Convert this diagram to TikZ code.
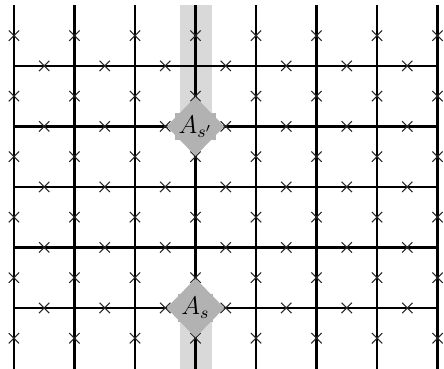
\documentclass[tikz,border=0pt]{standalone}
\usepackage{amsmath, amssymb}
\usepackage{xcolor}
\usepackage{tikz}
\usetikzlibrary{shapes.geometric, calc}

\begin{document}
\begin{tikzpicture}[
  gridline/.style={line width=1.1pt, black},
  cross/.style={line width=0.5pt, black!85},
  band/.style={fill=gray!30, draw=none},
  site/.style={diamond, fill=gray!60, draw=none, inner sep=0pt,
               minimum width=0.96cm, minimum height=0.98cm},
  sitelabel/.style={rectangle, fill=gray!60, inner sep=1.5pt, font=\large},
]
\useasboundingbox (-0.231,-1.008) rectangle (7.107,5.09);

%% ---- shaded column ----
\fill[band] (2.74,3) rectangle (3.27,5);
\fill[band] (2.74,-1.01) rectangle (3.27,0);

%% ---- lattice ----
\foreach \x in {0,...,7}
  \draw[gridline] (\x,-1.01) -- (\x,5);
\foreach \y in {0,...,4}
  \draw[gridline] (0,\y) -- (7,\y);

%% ---- crosses on the edges ----
\def\cs{0.085}
\foreach \x in {0,...,7}
  \foreach \y in {-0.5,0.5,...,4.5}
    \draw[cross] (\x-\cs,\y-\cs) -- (\x+\cs,\y+\cs)
                 (\x-\cs,\y+\cs) -- (\x+\cs,\y-\cs);
\foreach \x in {0.5,1.5,...,6.5}
  \foreach \y in {0,...,4}
    \draw[cross] (\x-\cs,\y-\cs) -- (\x+\cs,\y+\cs)
                 (\x-\cs,\y+\cs) -- (\x+\cs,\y-\cs);

%% ---- sites ----
\node[site] (Sp) at (3,3) {};
\node[sitelabel] (Lp) at (Sp) {$A_{s'}$};
\node[site] (S) at (3,0) {};
\node[sitelabel] (L) at (S) {$A_s$};

\end{tikzpicture}
\end{document}
